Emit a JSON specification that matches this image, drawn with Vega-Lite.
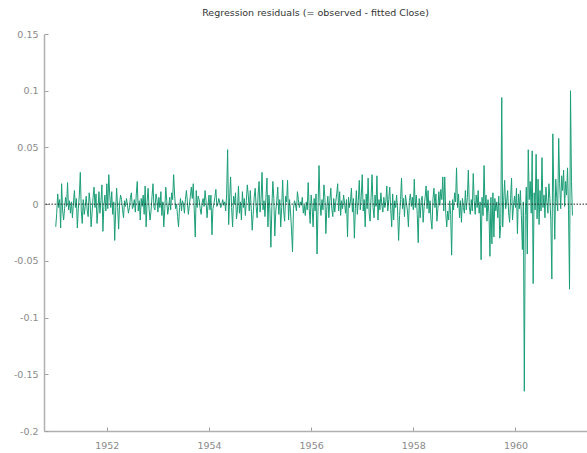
{
"$schema":"https://vega.github.io/schema/vega-lite/v6.json",
"width":543,"height":397,
"autosize":{"type":"none"},
"padding":{"left":44,"top":34,"right":0,"bottom":22},
"background":"white",
"title":{"text":"Regression residuals (= observed - fitted Close)","font":"DejaVu Sans","fontSize":9.5,"fontWeight":"normal","color":"#333333","anchor":"middle","offset":12},
"config":{"view":{"stroke":null}},
"layer":[
{"data":{"values":[
{"t":1951.000,"r":-0.020},{"t":1951.019,"r":-0.008},{"t":1951.038,"r":0.009},{"t":1951.058,"r":-0.003},{"t":1951.077,"r":0.004},{"t":1951.096,"r":-0.021},{"t":1951.115,"r":0.018},{"t":1951.135,"r":-0.006},{"t":1951.154,"r":-0.014},{"t":1951.173,"r":-0.004},{"t":1951.192,"r":0.006},{"t":1951.212,"r":-0.002},{"t":1951.231,"r":0.019},{"t":1951.250,"r":-0.005},{"t":1951.269,"r":0.003},{"t":1951.288,"r":-0.008},{"t":1951.308,"r":0.002},{"t":1951.327,"r":-0.012},{"t":1951.346,"r":0.001},{"t":1951.365,"r":0.012},{"t":1951.385,"r":-0.003},{"t":1951.404,"r":0.005},{"t":1951.423,"r":-0.021},{"t":1951.442,"r":-0.004},{"t":1951.462,"r":0.008},{"t":1951.481,"r":0.028},{"t":1951.500,"r":-0.006},{"t":1951.519,"r":-0.017},{"t":1951.538,"r":0.004},{"t":1951.558,"r":-0.009},{"t":1951.577,"r":-0.002},{"t":1951.596,"r":0.007},{"t":1951.615,"r":-0.005},{"t":1951.635,"r":-0.011},{"t":1951.654,"r":0.010},{"t":1951.673,"r":0.002},{"t":1951.692,"r":-0.020},{"t":1951.712,"r":-0.007},{"t":1951.731,"r":0.006},{"t":1951.750,"r":0.015},{"t":1951.769,"r":-0.003},{"t":1951.788,"r":0.009},{"t":1951.808,"r":-0.017},{"t":1951.827,"r":-0.005},{"t":1951.846,"r":0.011},{"t":1951.865,"r":-0.008},{"t":1951.885,"r":0.003},{"t":1951.904,"r":0.017},{"t":1951.923,"r":-0.024},{"t":1951.942,"r":-0.002},{"t":1951.962,"r":0.008},{"t":1951.981,"r":-0.006},
{"t":1952.000,"r":0.018},{"t":1952.019,"r":-0.004},{"t":1952.038,"r":0.026},{"t":1952.058,"r":0.007},{"t":1952.077,"r":-0.003},{"t":1952.096,"r":0.011},{"t":1952.115,"r":-0.009},{"t":1952.135,"r":0.002},{"t":1952.154,"r":-0.032},{"t":1952.173,"r":-0.006},{"t":1952.192,"r":0.014},{"t":1952.212,"r":-0.003},{"t":1952.231,"r":-0.022},{"t":1952.250,"r":0.001},{"t":1952.269,"r":0.008},{"t":1952.288,"r":0.004},{"t":1952.308,"r":-0.005},{"t":1952.327,"r":-0.012},{"t":1952.346,"r":0.003},{"t":1952.365,"r":-0.002},{"t":1952.385,"r":0.005},{"t":1952.404,"r":-0.001},{"t":1952.423,"r":-0.008},{"t":1952.442,"r":-0.003},{"t":1952.462,"r":0.006},{"t":1952.481,"r":0.010},{"t":1952.500,"r":-0.004},{"t":1952.519,"r":-0.002},{"t":1952.538,"r":0.004},{"t":1952.558,"r":-0.007},{"t":1952.577,"r":0.009},{"t":1952.596,"r":0.020},{"t":1952.615,"r":-0.006},{"t":1952.635,"r":0.003},{"t":1952.654,"r":-0.014},{"t":1952.673,"r":0.005},{"t":1952.692,"r":-0.002},{"t":1952.712,"r":0.008},{"t":1952.731,"r":-0.009},{"t":1952.750,"r":0.016},{"t":1952.769,"r":-0.020},{"t":1952.788,"r":0.002},{"t":1952.808,"r":0.014},{"t":1952.827,"r":-0.004},{"t":1952.846,"r":-0.014},{"t":1952.865,"r":-0.006},{"t":1952.885,"r":0.007},{"t":1952.904,"r":0.018},{"t":1952.923,"r":-0.003},{"t":1952.942,"r":-0.005},{"t":1952.962,"r":0.009},{"t":1952.981,"r":0.004},
{"t":1953.000,"r":-0.007},{"t":1953.019,"r":0.006},{"t":1953.038,"r":-0.003},{"t":1953.058,"r":0.011},{"t":1953.077,"r":-0.010},{"t":1953.096,"r":0.002},{"t":1953.115,"r":-0.020},{"t":1953.135,"r":-0.004},{"t":1953.154,"r":0.015},{"t":1953.173,"r":0.003},{"t":1953.192,"r":-0.009},{"t":1953.212,"r":-0.002},{"t":1953.231,"r":0.006},{"t":1953.250,"r":-0.005},{"t":1953.269,"r":0.010},{"t":1953.288,"r":0.004},{"t":1953.308,"r":0.026},{"t":1953.327,"r":0.008},{"t":1953.346,"r":-0.004},{"t":1953.365,"r":0.000},{"t":1953.385,"r":-0.011},{"t":1953.404,"r":-0.020},{"t":1953.423,"r":-0.003},{"t":1953.442,"r":0.005},{"t":1953.462,"r":-0.006},{"t":1953.481,"r":0.003},{"t":1953.500,"r":0.000},{"t":1953.519,"r":-0.008},{"t":1953.538,"r":0.004},{"t":1953.558,"r":0.012},{"t":1953.577,"r":0.002},{"t":1953.596,"r":-0.009},{"t":1953.615,"r":-0.001},{"t":1953.635,"r":0.007},{"t":1953.654,"r":0.015},{"t":1953.673,"r":0.005},{"t":1953.692,"r":0.018},{"t":1953.712,"r":-0.006},{"t":1953.731,"r":-0.029},{"t":1953.750,"r":0.012},{"t":1953.769,"r":-0.003},{"t":1953.788,"r":0.007},{"t":1953.808,"r":0.004},{"t":1953.827,"r":-0.004},{"t":1953.846,"r":-0.009},{"t":1953.865,"r":0.001},{"t":1953.885,"r":0.005},{"t":1953.904,"r":-0.002},{"t":1953.923,"r":0.012},{"t":1953.942,"r":0.003},{"t":1953.962,"r":-0.012},{"t":1953.981,"r":-0.001},
{"t":1954.000,"r":0.008},{"t":1954.019,"r":-0.005},{"t":1954.038,"r":0.008},{"t":1954.058,"r":-0.027},{"t":1954.077,"r":-0.004},{"t":1954.096,"r":0.000},{"t":1954.115,"r":0.006},{"t":1954.135,"r":0.013},{"t":1954.154,"r":-0.002},{"t":1954.173,"r":0.000},{"t":1954.192,"r":0.005},{"t":1954.212,"r":0.001},{"t":1954.231,"r":-0.003},{"t":1954.250,"r":0.000},{"t":1954.269,"r":0.004},{"t":1954.288,"r":-0.001},{"t":1954.308,"r":0.002},{"t":1954.327,"r":-0.006},{"t":1954.346,"r":0.009},{"t":1954.365,"r":0.048},{"t":1954.385,"r":-0.018},{"t":1954.404,"r":0.006},{"t":1954.423,"r":0.024},{"t":1954.442,"r":-0.003},{"t":1954.462,"r":-0.020},{"t":1954.481,"r":0.007},{"t":1954.500,"r":0.000},{"t":1954.519,"r":0.010},{"t":1954.538,"r":-0.013},{"t":1954.558,"r":-0.005},{"t":1954.577,"r":0.016},{"t":1954.596,"r":-0.008},{"t":1954.615,"r":0.002},{"t":1954.635,"r":-0.014},{"t":1954.654,"r":0.011},{"t":1954.673,"r":-0.003},{"t":1954.692,"r":0.005},{"t":1954.712,"r":-0.010},{"t":1954.731,"r":0.003},{"t":1954.750,"r":0.017},{"t":1954.769,"r":0.008},{"t":1954.788,"r":-0.006},{"t":1954.808,"r":0.012},{"t":1954.827,"r":-0.004},{"t":1954.846,"r":-0.023},{"t":1954.865,"r":-0.009},{"t":1954.885,"r":0.006},{"t":1954.904,"r":0.014},{"t":1954.923,"r":-0.002},{"t":1954.942,"r":-0.012},{"t":1954.962,"r":0.009},{"t":1954.981,"r":0.020},
{"t":1955.000,"r":-0.007},{"t":1955.019,"r":0.004},{"t":1955.038,"r":0.028},{"t":1955.058,"r":-0.005},{"t":1955.077,"r":0.003},{"t":1955.096,"r":-0.011},{"t":1955.115,"r":0.006},{"t":1955.135,"r":0.023},{"t":1955.154,"r":-0.020},{"t":1955.173,"r":0.008},{"t":1955.192,"r":-0.004},{"t":1955.212,"r":-0.038},{"t":1955.231,"r":-0.002},{"t":1955.250,"r":0.020},{"t":1955.269,"r":0.005},{"t":1955.288,"r":-0.028},{"t":1955.308,"r":-0.006},{"t":1955.327,"r":0.003},{"t":1955.346,"r":0.015},{"t":1955.365,"r":-0.009},{"t":1955.385,"r":0.004},{"t":1955.404,"r":-0.020},{"t":1955.423,"r":-0.003},{"t":1955.442,"r":0.021},{"t":1955.462,"r":-0.006},{"t":1955.481,"r":-0.015},{"t":1955.500,"r":0.007},{"t":1955.519,"r":0.002},{"t":1955.538,"r":0.021},{"t":1955.558,"r":-0.014},{"t":1955.577,"r":0.004},{"t":1955.596,"r":-0.007},{"t":1955.615,"r":-0.022},{"t":1955.635,"r":-0.042},{"t":1955.654,"r":-0.004},{"t":1955.673,"r":0.003},{"t":1955.692,"r":0.000},{"t":1955.712,"r":-0.006},{"t":1955.731,"r":0.011},{"t":1955.750,"r":0.004},{"t":1955.769,"r":-0.003},{"t":1955.788,"r":0.002},{"t":1955.808,"r":-0.001},{"t":1955.827,"r":0.006},{"t":1955.846,"r":-0.008},{"t":1955.865,"r":-0.001},{"t":1955.885,"r":-0.010},{"t":1955.904,"r":0.002},{"t":1955.923,"r":-0.005},{"t":1955.942,"r":0.019},{"t":1955.962,"r":-0.004},{"t":1955.981,"r":-0.017},
{"t":1956.000,"r":0.008},{"t":1956.019,"r":-0.003},{"t":1956.038,"r":-0.020},{"t":1956.058,"r":0.005},{"t":1956.077,"r":-0.006},{"t":1956.096,"r":0.009},{"t":1956.115,"r":-0.044},{"t":1956.135,"r":-0.003},{"t":1956.154,"r":0.034},{"t":1956.173,"r":0.002},{"t":1956.192,"r":-0.010},{"t":1956.212,"r":0.004},{"t":1956.231,"r":-0.005},{"t":1956.250,"r":0.017},{"t":1956.269,"r":0.006},{"t":1956.288,"r":-0.026},{"t":1956.308,"r":-0.002},{"t":1956.327,"r":0.007},{"t":1956.346,"r":-0.012},{"t":1956.365,"r":0.003},{"t":1956.385,"r":0.014},{"t":1956.404,"r":-0.004},{"t":1956.423,"r":-0.011},{"t":1956.442,"r":0.005},{"t":1956.462,"r":-0.007},{"t":1956.481,"r":0.002},{"t":1956.500,"r":0.009},{"t":1956.519,"r":0.018},{"t":1956.538,"r":-0.006},{"t":1956.558,"r":0.011},{"t":1956.577,"r":-0.010},{"t":1956.596,"r":0.003},{"t":1956.615,"r":-0.004},{"t":1956.635,"r":0.008},{"t":1956.654,"r":0.001},{"t":1956.673,"r":-0.008},{"t":1956.692,"r":0.004},{"t":1956.712,"r":-0.029},{"t":1956.731,"r":0.006},{"t":1956.750,"r":-0.003},{"t":1956.769,"r":0.002},{"t":1956.788,"r":0.014},{"t":1956.808,"r":-0.007},{"t":1956.827,"r":0.005},{"t":1956.846,"r":-0.030},{"t":1956.865,"r":-0.004},{"t":1956.885,"r":0.012},{"t":1956.904,"r":-0.009},{"t":1956.923,"r":0.003},{"t":1956.942,"r":0.021},{"t":1956.962,"r":-0.005},{"t":1956.981,"r":0.007},
{"t":1957.000,"r":0.026},{"t":1957.019,"r":-0.006},{"t":1957.038,"r":0.004},{"t":1957.058,"r":-0.020},{"t":1957.077,"r":0.009},{"t":1957.096,"r":-0.004},{"t":1957.115,"r":0.023},{"t":1957.135,"r":-0.008},{"t":1957.154,"r":-0.015},{"t":1957.173,"r":0.006},{"t":1957.192,"r":0.026},{"t":1957.212,"r":-0.003},{"t":1957.231,"r":-0.012},{"t":1957.250,"r":0.008},{"t":1957.269,"r":-0.002},{"t":1957.288,"r":0.025},{"t":1957.308,"r":-0.014},{"t":1957.327,"r":0.004},{"t":1957.346,"r":-0.005},{"t":1957.365,"r":0.010},{"t":1957.385,"r":-0.001},{"t":1957.404,"r":-0.007},{"t":1957.423,"r":0.006},{"t":1957.442,"r":-0.003},{"t":1957.462,"r":0.002},{"t":1957.481,"r":0.016},{"t":1957.500,"r":-0.006},{"t":1957.519,"r":0.004},{"t":1957.538,"r":0.015},{"t":1957.558,"r":-0.005},{"t":1957.577,"r":-0.020},{"t":1957.596,"r":0.009},{"t":1957.615,"r":-0.014},{"t":1957.635,"r":0.003},{"t":1957.654,"r":-0.003},{"t":1957.673,"r":0.008},{"t":1957.692,"r":-0.006},{"t":1957.712,"r":-0.032},{"t":1957.731,"r":-0.010},{"t":1957.750,"r":0.004},{"t":1957.769,"r":0.023},{"t":1957.788,"r":-0.004},{"t":1957.808,"r":0.005},{"t":1957.827,"r":-0.011},{"t":1957.846,"r":0.008},{"t":1957.865,"r":0.001},{"t":1957.885,"r":-0.006},{"t":1957.904,"r":-0.020},{"t":1957.923,"r":0.003},{"t":1957.942,"r":0.009},{"t":1957.962,"r":-0.002},{"t":1957.981,"r":0.006},
{"t":1958.000,"r":-0.005},{"t":1958.019,"r":0.022},{"t":1958.038,"r":-0.003},{"t":1958.058,"r":0.008},{"t":1958.077,"r":-0.009},{"t":1958.096,"r":-0.034},{"t":1958.115,"r":0.005},{"t":1958.135,"r":-0.012},{"t":1958.154,"r":0.003},{"t":1958.173,"r":0.007},{"t":1958.192,"r":-0.016},{"t":1958.212,"r":-0.002},{"t":1958.231,"r":0.006},{"t":1958.250,"r":0.016},{"t":1958.269,"r":-0.004},{"t":1958.288,"r":0.012},{"t":1958.308,"r":-0.008},{"t":1958.327,"r":0.003},{"t":1958.346,"r":-0.014},{"t":1958.365,"r":-0.022},{"t":1958.385,"r":0.005},{"t":1958.404,"r":0.014},{"t":1958.423,"r":-0.003},{"t":1958.442,"r":0.009},{"t":1958.462,"r":-0.015},{"t":1958.481,"r":-0.004},{"t":1958.500,"r":0.011},{"t":1958.519,"r":-0.001},{"t":1958.538,"r":0.013},{"t":1958.558,"r":0.004},{"t":1958.577,"r":0.024},{"t":1958.596,"r":-0.006},{"t":1958.615,"r":0.024},{"t":1958.635,"r":-0.008},{"t":1958.654,"r":-0.020},{"t":1958.673,"r":-0.006},{"t":1958.692,"r":-0.014},{"t":1958.712,"r":0.003},{"t":1958.731,"r":-0.009},{"t":1958.750,"r":-0.045},{"t":1958.769,"r":0.004},{"t":1958.788,"r":-0.005},{"t":1958.808,"r":0.010},{"t":1958.827,"r":0.002},{"t":1958.846,"r":0.032},{"t":1958.865,"r":-0.003},{"t":1958.885,"r":0.009},{"t":1958.904,"r":-0.012},{"t":1958.923,"r":0.003},{"t":1958.942,"r":-0.016},{"t":1958.962,"r":0.005},{"t":1958.981,"r":-0.003},
{"t":1959.000,"r":-0.008},{"t":1959.019,"r":0.012},{"t":1959.038,"r":-0.005},{"t":1959.058,"r":0.006},{"t":1959.077,"r":0.030},{"t":1959.096,"r":-0.002},{"t":1959.115,"r":-0.009},{"t":1959.135,"r":0.004},{"t":1959.154,"r":-0.006},{"t":1959.173,"r":0.027},{"t":1959.192,"r":0.003},{"t":1959.212,"r":-0.009},{"t":1959.231,"r":0.008},{"t":1959.250,"r":-0.003},{"t":1959.269,"r":0.012},{"t":1959.288,"r":-0.008},{"t":1959.308,"r":0.002},{"t":1959.327,"r":-0.049},{"t":1959.346,"r":0.006},{"t":1959.365,"r":-0.010},{"t":1959.385,"r":0.034},{"t":1959.404,"r":-0.003},{"t":1959.423,"r":0.008},{"t":1959.442,"r":-0.015},{"t":1959.462,"r":0.004},{"t":1959.481,"r":-0.008},{"t":1959.500,"r":-0.046},{"t":1959.519,"r":0.006},{"t":1959.538,"r":-0.035},{"t":1959.558,"r":0.010},{"t":1959.577,"r":-0.029},{"t":1959.596,"r":0.005},{"t":1959.615,"r":-0.006},{"t":1959.635,"r":0.002},{"t":1959.654,"r":-0.012},{"t":1959.673,"r":0.007},{"t":1959.692,"r":-0.030},{"t":1959.712,"r":-0.018},{"t":1959.731,"r":0.094},{"t":1959.750,"r":-0.020},{"t":1959.769,"r":0.003},{"t":1959.788,"r":0.021},{"t":1959.808,"r":-0.004},{"t":1959.827,"r":0.002},{"t":1959.846,"r":0.012},{"t":1959.865,"r":-0.007},{"t":1959.885,"r":-0.016},{"t":1959.904,"r":0.005},{"t":1959.923,"r":0.023},{"t":1959.942,"r":-0.014},{"t":1959.962,"r":-0.001},{"t":1959.981,"r":0.007},
{"t":1960.000,"r":-0.003},{"t":1960.019,"r":0.014},{"t":1960.038,"r":-0.026},{"t":1960.058,"r":0.009},{"t":1960.077,"r":-0.004},{"t":1960.096,"r":0.012},{"t":1960.115,"r":-0.010},{"t":1960.135,"r":-0.040},{"t":1960.154,"r":0.002},{"t":1960.173,"r":-0.165},{"t":1960.192,"r":-0.010},{"t":1960.212,"r":0.015},{"t":1960.231,"r":-0.044},{"t":1960.250,"r":0.048},{"t":1960.269,"r":0.004},{"t":1960.288,"r":0.020},{"t":1960.308,"r":-0.008},{"t":1960.327,"r":0.047},{"t":1960.346,"r":-0.070},{"t":1960.365,"r":0.010},{"t":1960.385,"r":-0.005},{"t":1960.404,"r":0.044},{"t":1960.423,"r":-0.013},{"t":1960.442,"r":0.022},{"t":1960.462,"r":-0.018},{"t":1960.481,"r":0.012},{"t":1960.500,"r":-0.006},{"t":1960.519,"r":0.041},{"t":1960.538,"r":-0.003},{"t":1960.558,"r":0.008},{"t":1960.577,"r":-0.012},{"t":1960.596,"r":0.015},{"t":1960.615,"r":0.002},{"t":1960.635,"r":-0.008},{"t":1960.654,"r":0.018},{"t":1960.673,"r":0.005},{"t":1960.692,"r":-0.014},{"t":1960.712,"r":-0.066},{"t":1960.731,"r":0.062},{"t":1960.750,"r":0.010},{"t":1960.769,"r":-0.031},{"t":1960.788,"r":0.022},{"t":1960.808,"r":0.005},{"t":1960.827,"r":-0.006},{"t":1960.846,"r":0.058},{"t":1960.865,"r":0.018},{"t":1960.885,"r":-0.004},{"t":1960.904,"r":0.025},{"t":1960.923,"r":0.012},{"t":1960.942,"r":0.030},{"t":1960.962,"r":-0.002},{"t":1960.981,"r":0.020},
{"t":1961.000,"r":0.008},{"t":1961.019,"r":0.032},{"t":1961.038,"r":-0.005},{"t":1961.058,"r":-0.075},{"t":1961.077,"r":0.100},{"t":1961.096,"r":0.020},{"t":1961.115,"r":-0.010}
]},
"mark":{"type":"line","color":"#1b9e77","strokeWidth":1},
"encoding":{
"x":{"field":"t","type":"quantitative","scale":{"domain":[1950.77,1961.4],"nice":false,"zero":false},
"axis":{"title":null,"grid":false,"values":[1952,1954,1956,1958,1960],"format":"d","domainColor":"#b0b0b0","domainWidth":1.5,"tickColor":"#a0a0a0","tickSize":-4,"tickWidth":1,"labelPadding":13,"labelColor":"#8a8a8a","labelFont":"DejaVu Sans","labelFontSize":9.5}},
"y":{"field":"r","type":"quantitative","scale":{"domain":[-0.2,0.15],"nice":false,"zero":false},
"axis":{"title":null,"grid":false,"values":[-0.2,-0.15,-0.1,-0.05,0,0.05,0.1,0.15],"labelExpr":"'' + datum.value","domainColor":"#b0b0b0","domainWidth":1.5,"tickColor":"#a0a0a0","tickSize":-4,"tickWidth":1,"labelPadding":10,"labelColor":"#8a8a8a","labelFont":"DejaVu Sans","labelFontSize":9.5}}
}},
{"data":{"values":[{"z":0}]},
"mark":{"type":"rule","color":"#222222","strokeWidth":1,"strokeDash":[1.5,1.5]},
"encoding":{"y":{"field":"z","type":"quantitative"}}}
]
}
